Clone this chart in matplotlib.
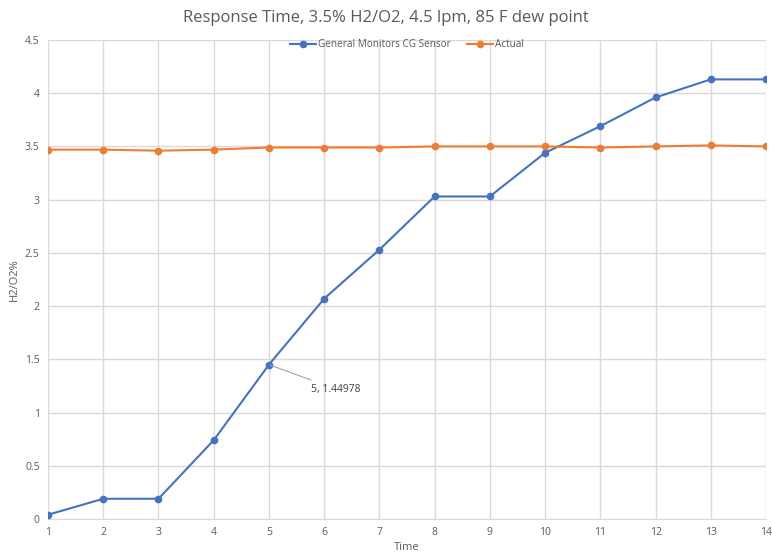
import matplotlib.pyplot as plt

time = list(range(1, 15))
sensor = [0.04, 0.19, 0.19, 0.74, 1.44978, 2.07, 2.53, 3.03, 3.03, 3.44, 3.69, 3.96, 4.13, 4.13]
actual = [3.47, 3.47, 3.46, 3.47, 3.49, 3.49, 3.49, 3.50, 3.50, 3.50, 3.49, 3.50, 3.51, 3.50]

BLUE = "#4472C4"
ORANGE = "#ED7D31"
GRID = "#D9D9D9"
TEXT = "#595959"

plt.rcParams["font.family"] = ["Open Sans", "DejaVu Sans"]

fig = plt.figure(figsize=(7.72, 5.54), dpi=100)
ax = fig.add_axes([0.0622, 0.0632, 0.9300, 0.8646])

ax.plot(time, sensor, color=BLUE, lw=1.5, marker="o", ms=4.5,
        label="General Monitors CG Sensor", zorder=3)
ax.plot(time, actual, color=ORANGE, lw=1.5, marker="o", ms=4.5,
        label="Actual", zorder=3)

ax.set_xlim(1, 14)
ax.set_ylim(0, 4.5)
ax.set_xticks(time)
ax.set_yticks([0, 0.5, 1, 1.5, 2, 2.5, 3, 3.5, 4, 4.5])
ax.set_yticklabels(["0", "0.5", "1", "1.5", "2", "2.5", "3", "3.5", "4", "4.5"])
ax.grid(True, color=GRID, lw=1)
ax.set_axisbelow(True)
for side in ["top", "right", "left"]:
    ax.spines[side].set_visible(False)
ax.spines["bottom"].set_color(GRID)
ax.tick_params(length=0, labelsize=7.5, colors=TEXT, pad=6)

ax.set_xlabel("Time", fontsize=8, color=TEXT, labelpad=3)
ax.set_ylabel("H2/O2%", fontsize=8, color=TEXT, labelpad=4)
fig.suptitle("Response Time, 3.5% H2/O2, 4.5 lpm, 85 F dew point",
             fontsize=12, color=TEXT, y=0.982)

# data label for the fifth sensor reading
ax.annotate(f"{time[4]}, {sensor[4]}", xy=(time[4], sensor[4]),
            xytext=(5.77, 1.22), textcoords="data", fontsize=7.5,
            color="#404040", va="center",
            arrowprops=dict(arrowstyle="-", color="#A6A6A6", lw=0.8,
                            shrinkA=2, shrinkB=1))

ax.legend(loc="upper center", bbox_to_anchor=(0.5, 1.02), ncol=2,
          frameon=False, fontsize=7.2, labelcolor=TEXT, handlelength=2.6,
          columnspacing=1.6, handletextpad=0.2)

fig.savefig("out.png", dpi=100)
